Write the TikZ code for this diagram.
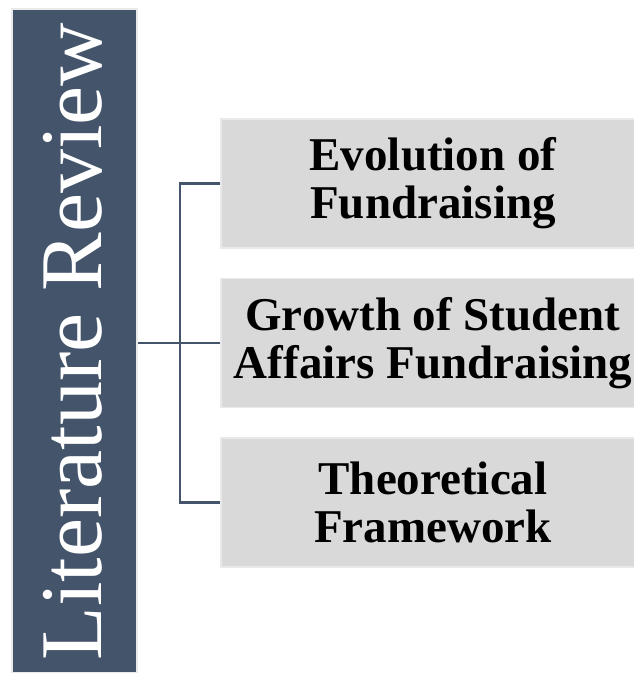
\documentclass[tikz,border=0pt]{standalone}
\usepackage{fontspec}
\setmainfont{Liberation Serif}
\definecolor{slate}{HTML}{44546A}
\definecolor{boxgray}{HTML}{D9D9D9}
\definecolor{edgegray}{HTML}{E9E9E9}
\tikzset{
  x=1pt,y=1pt,
  barbox/.style={rectangle,fill=slate,draw=edgegray,line width=1.5pt,inner sep=0pt,minimum width=125pt,minimum height=664pt},
  topicbox/.style={rectangle,fill=boxgray,draw=edgegray,line width=1.5pt,inner sep=0pt,minimum width=424pt,minimum height=129pt,align=center,font=\fontsize{47}{48}\selectfont\bfseries},
  conn/.style={draw=slate,line width=2.3pt}
}
\begin{document}
\begin{tikzpicture}
\useasboundingbox (0,0) rectangle (634,-673);
\fill[white] (0,0) rectangle (634,-673);
\node[barbox] (bar) at (74.5,-341) {};
\node[rotate=90,anchor=base,text=white,font=\fontsize{88}{88}\selectfont] (title) at (101,-341.5) {Literature Review};
\node[topicbox] (box1) at (433,-183.5) {Evolution of\\Fundraising};
\node[topicbox] (box2) at (433,-343) {Growth of Student\\Affairs Fundraising};
\node[topicbox] (box3) at (433,-502.5) {Theoretical\\Framework};
\coordinate (jx) at (180,-343);
\draw[conn] (bar.east |- box2.west) -- (box2.west);
\draw[conn] (box1.west) -| (jx) |- (box3.west);
\end{tikzpicture}
\end{document}
